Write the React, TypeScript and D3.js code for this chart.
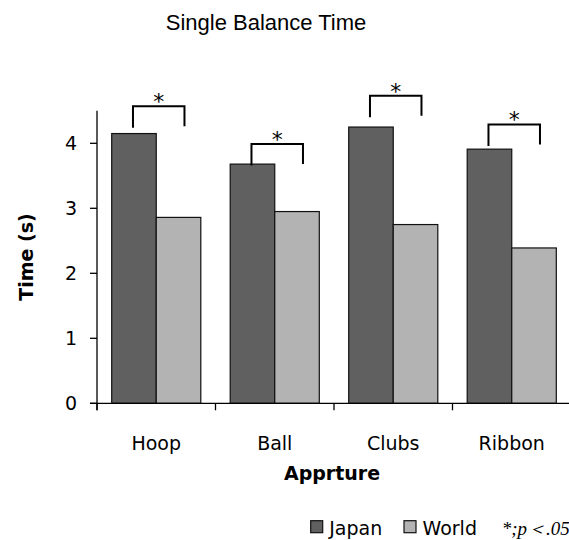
import React, {useEffect, useRef} from 'react'
import * as d3 from 'd3'

const categories = ["Hoop", "Ball", "Clubs", "Ribbon"]
const series = ["Japan", "World"]
const japan = [4.15, 3.68, 4.25, 3.91]
const world = [2.86, 2.95, 2.75, 2.39]
// top of each significance bracket, in seconds
const sigTop = [4.57, 3.99, 4.73, 4.29]
const yTicks = [0, 1, 2, 3, 4]

const colors: Record<string, string> = {Japan: "#606060", World: "#b3b3b3"}
const sans = "'DejaVu Sans', Verdana, sans-serif"

function App() {
    const ref = useRef<SVGSVGElement>(null)

    useEffect(() => {
        const svg = d3.select(ref.current)
        svg.selectAll("*").remove()

        const width = 569
        const left = 97
        const bottom = 403.3

        const x = d3.scaleBand().domain(categories).range([left, 571]).padding(0)
        const inner = d3.scaleBand().domain(series).range([0, x.step()]).paddingInner(0).paddingOuter(0.33)
        const y = d3.scaleLinear().domain([0, 4]).range([bottom, 143.3])

        // title
        svg.append("text")
            .attr("x", 266)
            .attr("y", 30)
            .attr("text-anchor", "middle")
            .style("font-family", "'Liberation Sans', Arial, sans-serif")
            .style("font-size", "22px")
            .text("Single Balance Time")

        // bars
        const rows = categories.map((c, i) => ({c, Japan: japan[i], World: world[i]}))
        const g = svg.append("g")
        rows.forEach(r => {
            series.forEach(s => {
                const v = (r as any)[s] as number
                g.append("rect")
                    .attr("x", x(r.c)! + inner(s)!)
                    .attr("y", y(v))
                    .attr("width", inner.bandwidth())
                    .attr("height", bottom - y(v))
                    .attr("fill", colors[s])
                    .attr("stroke", "#111")
                    .attr("stroke-width", 1.2)
            })
        })

        // axes
        const axis = svg.append("g").attr("stroke", "#000").attr("stroke-width", 1.3)
        axis.append("line")
            .attr("x1", left).attr("x2", left)
            .attr("y1", y(4.5)).attr("y2", bottom + 7)
        axis.append("line")
            .attr("x1", left - 7).attr("x2", width)
            .attr("y1", bottom).attr("y2", bottom)
        yTicks.forEach(t => {
            axis.append("line")
                .attr("x1", left - 7).attr("x2", left)
                .attr("y1", y(t)).attr("y2", y(t))
        })
        categories.forEach(c => {
            axis.append("line")
                .attr("x1", x(c)!).attr("x2", x(c)!)
                .attr("y1", bottom).attr("y2", bottom + 7)
        })

        svg.append("g").selectAll("text")
            .data(yTicks)
            .enter()
            .append("text")
            .attr("x", left - 20)
            .attr("y", d => y(d))
            .attr("dy", "0.36em")
            .attr("text-anchor", "end")
            .style("font-family", sans)
            .style("font-size", "19px")
            .text(d => d)

        svg.append("g").selectAll("text")
            .data(categories)
            .enter()
            .append("text")
            .attr("x", d => x(d)! + x.bandwidth() / 2)
            .attr("y", 450)
            .attr("text-anchor", "middle")
            .style("font-family", sans)
            .style("font-size", "19px")
            .text(d => d)

        svg.append("text")
            .attr("x", 332)
            .attr("y", 480)
            .attr("text-anchor", "middle")
            .style("font-family", sans)
            .style("font-size", "19px")
            .style("font-weight", "bold")
            .text("Apprture")

        svg.append("text")
            .attr("transform", "translate(33, 257) rotate(-90)")
            .attr("text-anchor", "middle")
            .style("font-family", sans)
            .style("font-size", "19px")
            .style("font-weight", "bold")
            .text("Time (s)")

        // significance brackets
        const br = svg.append("g")
        categories.forEach((c, i) => {
            const x0 = x(c)! + inner("Japan")! + inner.bandwidth() / 2 - 1
            const x1 = x0 + 51.5
            const top = y(sigTop[i])
            br.append("path")
                .attr("d", `M${x0},${top + 21.5}V${top}H${x1}V${top + 20}`)
                .attr("fill", "none")
                .attr("stroke", "#000")
                .attr("stroke-width", 2)
            br.append("text")
                .attr("x", (x0 + x1) / 2)
                .attr("y", top + 3)
                .attr("text-anchor", "middle")
                .style("font-family", sans)
                .style("font-size", "22px")
                .text("*")
        })

        // legend
        const leg = svg.append("g")
        const legX = [310.7, 404]
        series.forEach((s, i) => {
            leg.append("rect")
                .attr("x", legX[i]).attr("y", 520.7)
                .attr("width", 12).attr("height", 12)
                .attr("fill", colors[s])
                .attr("stroke", "#111")
                .attr("stroke-width", 1.2)
            leg.append("text")
                .attr("x", legX[i] + 18.5)
                .attr("y", 535)
                .style("font-family", sans)
                .style("font-size", "19px")
                .text(s)
        })
        leg.append("text")
            .attr("x", 501.7)
            .attr("y", 535)
            .style("font-family", "'Liberation Serif', 'Times New Roman', serif")
            .style("font-style", "italic")
            .style("font-size", "19px")
            .text("*;p＜.05")
    }, [])

    return (
        <div style={{position: "absolute", left: 0, top: 0}}>
            <svg ref={ref} width={569} height={540} style={{display: "block"}}></svg>
        </div>
    )
}

export default App
